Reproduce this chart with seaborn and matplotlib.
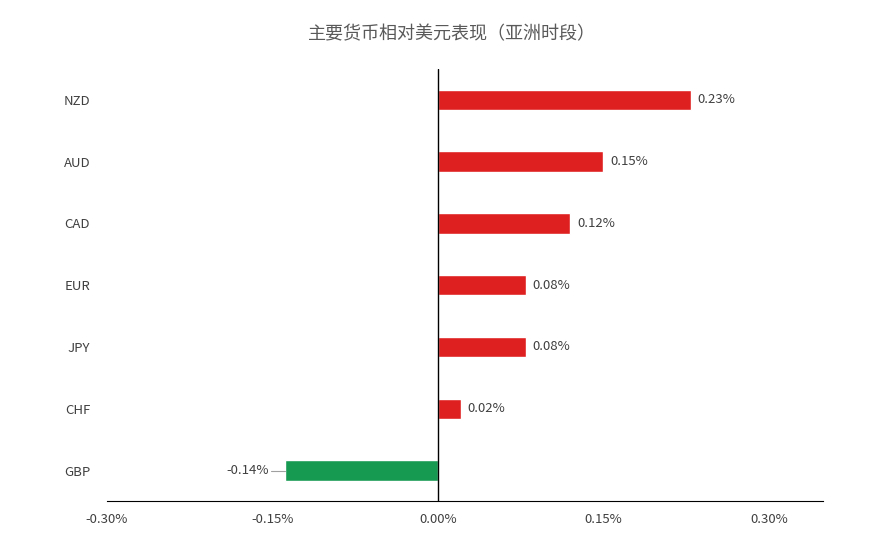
import matplotlib
matplotlib.use("Agg")
import matplotlib.pyplot as plt
import seaborn as sns
import pandas as pd

currencies = ["NZD", "AUD", "CAD", "EUR", "JPY", "CHF", "GBP"]
values = [0.23, 0.15, 0.12, 0.08, 0.08, 0.02, -0.14]
bar_values = [0.229, 0.150, 0.120, 0.080, 0.080, 0.021, -0.139]
xticks = [-0.30, -0.15, 0.00, 0.15, 0.30]

sns.set_style("white")
plt.rcParams['font.family'] = ['Noto Sans CJK SC', 'DejaVu Sans']

df = pd.DataFrame({"cur": currencies, "val": bar_values})
colors = ["#ff0000" if v > 0 else "#00b050" for v in bar_values]

fig, ax = plt.subplots(figsize=(8.69, 5.51), dpi=100)
fig.subplots_adjust(left=0.123, right=0.947, top=0.875, bottom=0.09)
sns.barplot(data=df, x="val", y="cur", hue="cur", palette=colors, legend=False,
            width=0.33, ax=ax, orient="h")
ax.set_xlim(-0.30, 0.349)
ax.set_ylim(6.5, -0.5)
ax.axvline(0, color="black", lw=1)
for s in ["top", "right", "left"]:
    ax.spines[s].set_visible(False)
ax.spines["bottom"].set_color("black")
ax.set_xticks(xticks)
ax.set_xticklabels([f"{t:.2f}%" for t in xticks], color="#404040", fontsize=9.5)
ax.tick_params(axis="y", length=0, labelcolor="#404040", labelsize=9.5, pad=12)
ax.tick_params(axis="x", length=0, pad=8)
ax.set_xlabel("")
ax.set_ylabel("")
for i, (b, v) in enumerate(zip(bar_values, values)):
    if v >= 0:
        ax.text(b + 0.006, i, f"{v:.2f}%", va="center", ha="left", fontsize=9.5, color="#404040")
    else:
        ax.plot([b - 0.012, b], [i, i], color="#a0a0a0", lw=0.8)
        ax.text(b - 0.014, i, f"{v:.2f}%", va="center", ha="right", fontsize=9.5, color="#404040")
fig.suptitle("主要货币相对美元表现（亚洲时段）", x=0.52, y=0.955, fontsize=13, color="#595959")
fig.savefig("out.png", dpi=100)
